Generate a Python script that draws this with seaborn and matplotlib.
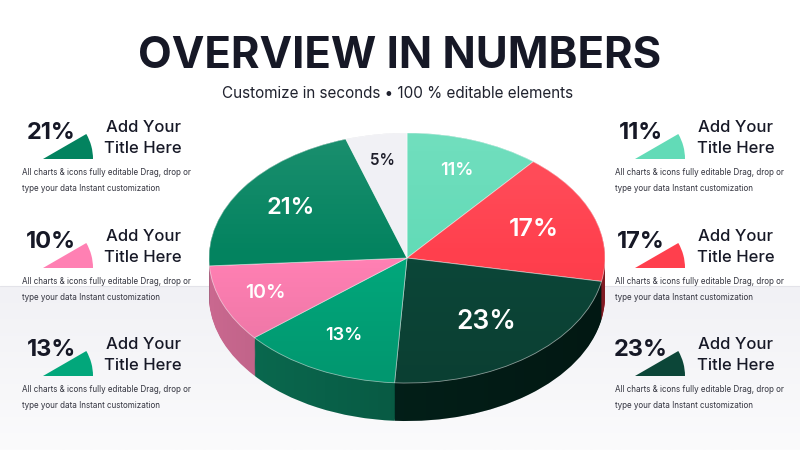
import numpy as np
import matplotlib
matplotlib.use("Agg")
import matplotlib.pyplot as plt
import seaborn as sns
from matplotlib.patches import Wedge, Ellipse, PathPatch
from matplotlib.path import Path
from matplotlib.colors import LinearSegmentedColormap

sns.set_theme(style="white")
plt.rcParams['font.family'] = ['Inter', 'DejaVu Sans']

# ---------------- data ----------------
shares = [11, 17, 23, 13, 10, 21, 5]          # clockwise from 12 o'clock
left_panel_values = [21, 10, 13]
right_panel_values = [11, 17, 23]
title_text = "OVERVIEW IN NUMBERS"
subtitle_text = "Customize in seconds \u2022 100 % editable elements"
panel_title = "Add Your\nTitle Here"
panel_desc = "All charts & icons fully editable Drag, drop or\ntype your data Instant customization"

# ---------------- styles ----------------
top_colors = sns.color_palette(["#62dbb7", "#ff3f4d", "#0c4638", "#02a77b",
                                "#ff80b3", "#03835f", "#f0f0f5"])
side_colors = sns.color_palette(["#3fb08f", "#c42a36", "#03251d", "#0a6c51",
                                 "#c9688f", "#055a44", "#c9c9d0"])
label_sizes = [13, 18, 19, 13, 14, 17, 11]
label_dist = [0.74, 0.68, 0.65, 0.70, 0.77, 0.71, 0.79]
label_colors = ["white"] * 6 + ["#1f1f2b"]
ink = "#161826"

W, H = 800, 450
cx, cy, rx, ry = 407, 258, 198, 125
depth = 38 / ry

fig = plt.figure(figsize=(W / 100, H / 100), dpi=100)
fig.patch.set_facecolor("white")

# background axes in pixel coordinates
bg = fig.add_axes([0, 0, 1, 1], zorder=0)
band = LinearSegmentedColormap.from_list("band", ["#f1f1f5", "#fbfbfc"])
bg.imshow(np.linspace(0, 1, 128)[:, None], cmap=band, aspect="auto",
          extent=(0, W, H, 286), origin="upper", interpolation="bilinear")
bg.axhline(286, color="#e3e3e9", lw=0.8)
bg.set_xlim(0, W)
bg.set_ylim(H, 0)
bg.axis("off")

# pie axes: unit circle -> ellipse (rx, ry) centred at (cx, cy)
ax = fig.add_axes([0, 0, 1, 1], zorder=1)
ax.patch.set_alpha(0)
n_layers = 40
for k in range(n_layers + 1):
    yc = -depth + depth * k / n_layers
    ax.pie(shares, colors=side_colors, startangle=90, counterclock=False,
           center=(0, yc), radius=1, wedgeprops=dict(linewidth=0))

# side shading (darker towards the right)
theta = np.linspace(0, -np.pi, 200)
upper = np.column_stack([np.cos(theta), np.sin(theta)])
lower = np.column_stack([np.cos(theta[::-1]), np.sin(theta[::-1]) - depth])
side_path = Path(np.vstack([upper, lower, upper[:1]]), closed=True)
side_patch = PathPatch(side_path, facecolor="none", edgecolor="none", transform=ax.transData)
ax.add_patch(side_patch)
shade = np.zeros((2, 256, 4))
shade[..., 3] = np.linspace(0.0, 0.35, 256)[None, :]
im = ax.imshow(shade, extent=(-1, 1, -1 - depth, 0), aspect="auto", zorder=3,
               interpolation="bilinear")
im.set_clip_path(side_patch)

wedges, texts, autotexts = ax.pie(
    shares, colors=top_colors, startangle=90, counterclock=False,
    autopct=lambda p: f"{p:.0f}%", pctdistance=0.7, radius=1,
    wedgeprops=dict(linewidth=0.6, edgecolor=(1, 1, 1, 0.55), zorder=4))

# top surface shading
top_clip = Ellipse((0, 0), 2, 2, transform=ax.transData, facecolor="none", edgecolor="none")
ax.add_patch(top_clip)
g = np.zeros((256, 2, 4))
a = np.linspace(1, -1, 256)
g[..., :3] = np.where(a[:, None, None] > 0, 1.0, 0.0)
g[..., 3] = (np.abs(a) * 0.10)[:, None]
im2 = ax.imshow(g, extent=(-1, 1, -1, 1), aspect="auto", zorder=5,
                interpolation="bilinear", origin="upper")
im2.set_clip_path(top_clip)

for t, d, s, c in zip(autotexts, label_dist, label_sizes, label_colors):
    x, y = t.get_position()
    t.set_position((x * d / 0.7, y * d / 0.7))
    t.set_fontsize(s)
    t.set_color(c)
    t.set_fontweight("semibold")
    t.set_zorder(6)

ax.set_aspect("auto")
ax.set_xlim(-cx / rx, (W - cx) / rx)
ax.set_ylim((cy - H) / ry, cy / ry)
ax.axis("off")

# text / panels overlay
ov = fig.add_axes([0, 0, 1, 1], zorder=2)
ov.patch.set_alpha(0)
ov.set_xlim(0, W)
ov.set_ylim(H, 0)
ov.axis("off")

ov.text(400, 57, title_text, ha="center", va="center", fontsize=31.5,
        fontweight="bold", color=ink)
ov.text(398, 94, subtitle_text, ha="center", va="center", fontsize=11,
        color="#20222e")

row_offsets = [0, 109, 217]
sides = [dict(vals=left_panel_values, pct_x=51, icon_x=43, title_x=143, desc_x=22),
         dict(vals=right_panel_values, pct_x=641, icon_x=635, title_x=736, desc_x=615)]
for side in sides:
    for v, off in zip(side["vals"], row_offsets):
        col = top_colors[shares.index(v)]
        ov.add_patch(Wedge((side["icon_x"], 159 + off), 50, -30, 0,
                           facecolor=col, edgecolor="none"))
        ov.text(side["pct_x"], 133 + off, f"{v}%", ha="center", va="center",
                fontsize=17, fontweight="bold", color=ink)
        ov.text(side["title_x"], 138 + off, panel_title, ha="center", va="center",
                fontsize=12, fontweight="medium", color=ink, linespacing=1.45)
        ov.text(side["desc_x"], 180.5 + off, panel_desc, ha="left", va="center",
                fontsize=5.8, color="#33343f", linespacing=2.0)

fig.savefig("out.png", dpi=100, facecolor="white")
